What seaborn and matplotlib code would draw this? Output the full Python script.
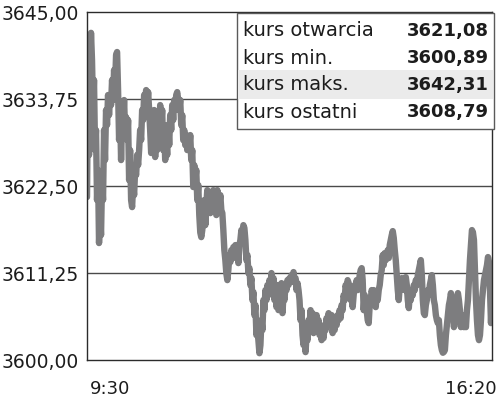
import numpy as np
import pandas as pd
import matplotlib
matplotlib.use("Agg")
import matplotlib.pyplot as plt
import matplotlib.patches as patches
import seaborn as sns

# -------------------------------------------------
# DANE (mniej wiecej co minute)
# -------------------------------------------------
ceny = [
    3621.08, 3636.60, 3626.50, 3636.59, 3642.31, 3638.79, 3632.33, 3636.21,
    3627.15, 3629.74, 3620.69, 3624.57, 3615.13, 3618.75, 3616.16, 3623.27,
    3620.69, 3629.74, 3625.86, 3632.33, 3630.39, 3634.27, 3631.68, 3634.01,
    3632.97, 3636.21, 3633.62, 3637.50, 3635.56, 3639.44, 3639.83, 3634.91,
    3628.45, 3632.33, 3625.86, 3631.03, 3630.39, 3633.62, 3629.74, 3631.42,
    3628.45, 3631.03, 3623.27, 3627.15, 3620.69, 3619.78, 3622.63, 3621.33,
    3624.57, 3623.92, 3626.51, 3625.21, 3627.15, 3629.74, 3628.45, 3632.33,
    3631.03, 3634.27, 3633.62, 3634.91, 3632.97, 3634.65, 3632.33, 3629.74,
    3626.77, 3631.03, 3628.45, 3632.33, 3626.25, 3629.74, 3627.15, 3631.03,
    3629.09, 3632.97, 3630.39, 3632.33, 3627.15, 3630.39, 3625.86, 3628.45,
    3626.51, 3630.39, 3627.80, 3631.68, 3629.74, 3632.97, 3631.03, 3633.62,
    3632.33, 3634.27, 3634.65, 3633.62, 3632.33, 3633.62, 3630.39, 3631.68,
    3628.45, 3629.74, 3627.80, 3629.09, 3627.15, 3628.45, 3627.54, 3629.09,
    3625.86, 3627.15, 3622.37, 3625.21, 3623.27, 3624.57, 3620.69, 3622.63,
    3618.75, 3616.50, 3615.90, 3616.81, 3619.39, 3620.69, 3617.45, 3620.04,
    3621.98, 3619.39, 3621.33, 3619.00, 3620.69, 3620.04, 3621.98, 3619.39,
    3621.33, 3618.75, 3621.98, 3620.69, 3620.04, 3621.33, 3619.39, 3619.00,
    3616.81, 3614.22, 3612.93, 3611.20, 3610.34, 3611.64, 3613.58, 3612.67,
    3614.22, 3613.19, 3614.61, 3613.58, 3614.87, 3613.19, 3614.22, 3612.54,
    3614.87, 3615.52, 3616.81, 3616.16, 3617.45, 3617.07, 3615.52, 3612.93,
    3613.58, 3611.25, 3611.89, 3609.70, 3610.60, 3607.76, 3608.79, 3605.82,
    3607.11, 3603.23, 3604.13, 3602.58, 3600.89, 3601.94, 3605.17, 3603.88,
    3607.76, 3606.46, 3609.05, 3607.76, 3609.70, 3608.40, 3610.34, 3609.05,
    3611.25, 3609.44, 3610.60, 3607.76, 3609.31, 3606.85, 3609.70, 3606.46,
    3609.05, 3607.76, 3609.95, 3606.07, 3608.40, 3607.76, 3609.70, 3609.05,
    3610.34, 3609.70, 3610.60, 3610.08, 3610.99, 3610.34, 3611.38, 3610.08,
    3610.60, 3609.05, 3609.95, 3609.05, 3607.76, 3605.17, 3606.46, 3603.23,
    3601.94, 3603.88, 3601.03, 3603.23, 3602.58, 3605.17, 3604.52, 3606.46,
    3605.17, 3606.07, 3603.49, 3605.17, 3603.88, 3605.82, 3604.52, 3605.17,
    3603.23, 3604.52, 3602.58, 3603.88, 3602.84, 3604.52, 3603.88, 3605.43,
    3604.52, 3606.07, 3605.17, 3604.52, 3605.82, 3603.49, 3604.52, 3603.88,
    3605.43, 3604.52, 3605.82, 3605.17, 3606.46, 3605.43, 3607.11, 3606.46,
    3608.40, 3607.76, 3609.70, 3609.05, 3610.34, 3609.95, 3609.05, 3607.76,
    3609.05, 3606.85, 3608.40, 3609.70, 3609.05, 3610.34, 3609.05, 3609.70,
    3610.99, 3611.64, 3611.89, 3610.34, 3606.46, 3608.40, 3607.76, 3606.46,
    3605.17, 3604.78, 3607.11, 3607.76, 3609.05, 3608.40, 3609.05, 3607.76,
    3606.85, 3608.40, 3607.76, 3609.05, 3609.70, 3610.99, 3611.64, 3613.58,
    3612.28, 3613.83, 3612.93, 3613.58, 3614.22, 3613.19, 3614.87, 3615.52,
    3616.16, 3616.68, 3615.80, 3614.22, 3612.93, 3610.99, 3609.05, 3607.76,
    3609.70, 3609.05, 3610.60, 3609.70, 3610.34, 3609.05, 3610.73, 3609.70,
    3607.76, 3606.72, 3608.40, 3607.76, 3609.05, 3608.40, 3609.70, 3609.05,
    3610.34, 3609.70, 3610.99, 3611.64, 3612.28, 3612.93, 3610.99, 3607.76,
    3606.07, 3605.82, 3607.11, 3607.76, 3609.05, 3608.40, 3609.70, 3610.34,
    3610.99, 3609.70, 3607.76, 3607.11, 3605.82, 3605.17, 3604.78, 3605.17,
    3603.23, 3601.94, 3601.29, 3600.95, 3601.05, 3601.29, 3603.23, 3604.52,
    3605.82, 3607.11, 3607.76, 3608.66, 3607.76, 3606.46, 3604.26, 3605.17,
    3607.11, 3607.76, 3608.66, 3607.76, 3606.46, 3604.26, 3605.82, 3605.17,
    3604.26, 3605.17, 3604.26, 3606.46, 3607.76, 3610.34, 3612.93, 3614.87,
    3616.81, 3616.50, 3615.52, 3611.64, 3607.76, 3605.17, 3603.23, 3602.58,
    3603.23, 3605.17, 3607.76, 3609.05, 3610.34, 3610.99, 3611.64, 3612.28,
    3613.32, 3612.67, 3609.05, 3604.78, 3608.79,
]

poziomy_y = [3600.00, 3611.25, 3622.50, 3633.75, 3645.00]
etykiety_y = ["3600,00", "3611,25", "3622,50", "3633,75", "3645,00"]
etykiety_x = ["9:30", "16:20"]
sesja_min = 410  # 9:30 -> 16:20

tabela_nazwy = ["kurs otwarcia", "kurs min.", "kurs maks.", "kurs ostatni"]
tabela_wartosci = ["3621,08", "3600,89", "3642,31", "3608,79"]

minuty = np.linspace(0, sesja_min, len(ceny))
df = pd.DataFrame({"minuta": minuty, "kurs": ceny})

# -------------------------------------------------
# WYKRES
# -------------------------------------------------
sns.set_style("white")
plt.rcParams["font.family"] = ["DejaVu Sans"]
kolor_tekstu = "#1c1c1c"

fig = plt.figure(figsize=(5.0, 4.01), dpi=100)
ax = fig.add_axes([0.174, 0.102, 0.81, 0.868])

for v in poziomy_y[1:-1]:
    ax.axhline(v, color="#4a4a4a", linewidth=1.0, zorder=1)

sns.lineplot(
    data=df, x="minuta", y="kurs", ax=ax,
    color="#7d7d7f", linewidth=4.6, zorder=2,
    solid_joinstyle="round", solid_capstyle="round"
)

ax.set_xlim(0, sesja_min)
ax.set_ylim(poziomy_y[0], poziomy_y[-1])
ax.set_yticks(poziomy_y, etykiety_y, fontsize=13.5, color=kolor_tekstu)
ax.set_xticks([])
ax.tick_params(axis="y", length=0, pad=6)
ax.set_xlabel("")
ax.set_ylabel("")

# etykiety godzin: poczatek i koniec sesji
ax.text(0.008, -0.083, etykiety_x[0], transform=ax.transAxes, fontsize=13,
        color=kolor_tekstu, ha="left", va="center")
ax.text(1.012, -0.083, etykiety_x[1], transform=ax.transAxes, fontsize=13,
        color=kolor_tekstu, ha="right", va="center")

for s in ax.spines.values():
    s.set_visible(True)
    s.set_color("#2b2b2b")
    s.set_linewidth(1.0)

# tabela z kursami (w pikselach figury)
W, H = 500, 401


def fx(px):
    return px / W


def fy(py):
    return (H - py) / H


fig.patches.append(patches.Rectangle(
    (fx(237), fy(129)), fx(494) - fx(237), fy(13) - fy(129),
    transform=fig.transFigure, facecolor="white",
    edgecolor="#5a5a5a", linewidth=1.0, zorder=5
))
fig.patches.append(patches.Rectangle(
    (fx(238), fy(99)), fx(493) - fx(238), fy(70) - fy(99),
    transform=fig.transFigure, facecolor="#ebebeb",
    edgecolor="none", zorder=6
))

wiersze_y = [31, 58, 85, 112]
for nazwa, wartosc, py in zip(tabela_nazwy, tabela_wartosci, wiersze_y):
    fig.text(fx(243), fy(py), nazwa, fontsize=14, color=kolor_tekstu,
             ha="left", va="center", zorder=7)
    fig.text(fx(489), fy(py), wartosc, fontsize=13, fontweight="bold",
             color=kolor_tekstu, ha="right", va="center", zorder=7)

fig.savefig("out.png", dpi=100)
